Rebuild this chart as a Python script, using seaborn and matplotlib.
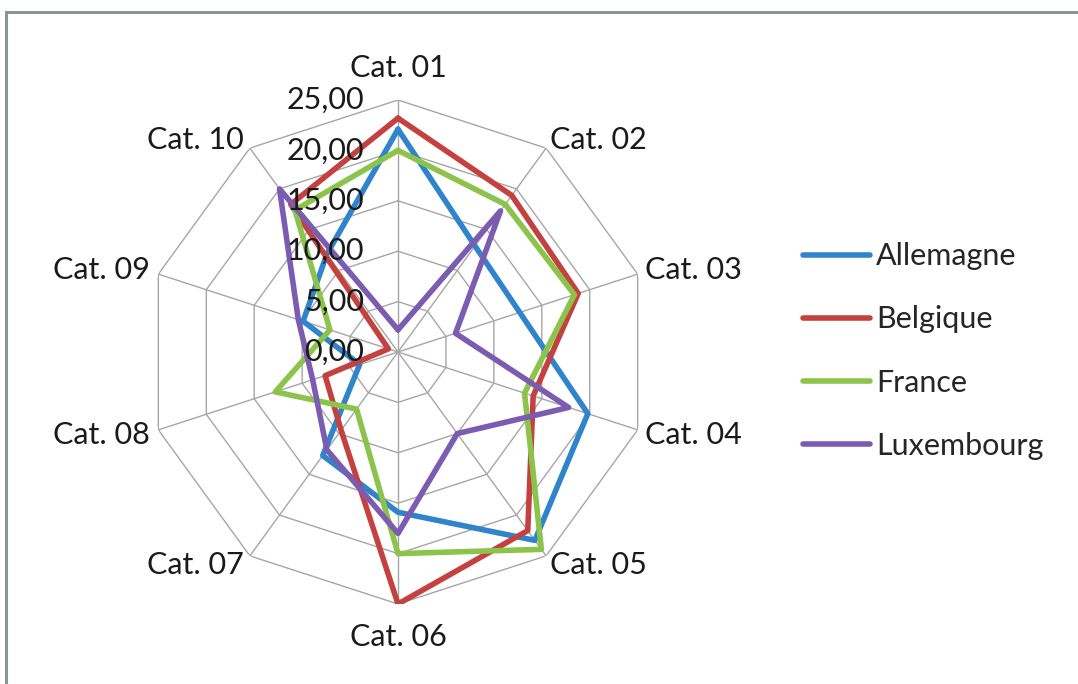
import numpy as np
import pandas as pd
import matplotlib
matplotlib.use("Agg")
import matplotlib.pyplot as plt
from matplotlib.lines import Line2D
from matplotlib.patches import Rectangle
import seaborn as sns

sns.set_style("white")
plt.rcParams['font.family'] = ['Lato', 'DejaVu Sans']

categories = ["Cat. 01", "Cat. 02", "Cat. 03", "Cat. 04", "Cat. 05",
              "Cat. 06", "Cat. 07", "Cat. 08", "Cat. 09", "Cat. 10"]
allemagne = [22.1, 13.0, 12.7, 19.8, 23.1, 15.9, 12.7, 4.0, 9.9, 12.0]
belgique = [23.2, 19.2, 18.8, 14.1, 21.9, 25.0, 9.6, 7.6, 1.0, 18.1]
france = [20.0, 18.1, 18.4, 13.2, 24.2, 20.0, 7.0, 12.8, 7.1, 17.4]
luxembourg = [2.2, 17.3, 6.0, 17.8, 10.0, 18.0, 12.0, 8.9, 10.4, 20.0]
series_names = ["Allemagne", "Belgique", "France", "Luxembourg"]
series_values = [allemagne, belgique, france, luxembourg]
colors = ["#2f84cc", "#c3413e", "#8cc34a", "#7b5cb0"]
ring_values = [0, 5, 10, 15, 20, 25]
ring_labels = ["0,00", "5,00", "10,00", "15,00", "20,00", "25,00"]

W, H = 1078, 684
fig = plt.figure(figsize=(W / 100, H / 100), dpi=100)
cx, cy, R = 398, 352, 252
ax = fig.add_axes([(cx - R) / W, (H - cy - R) / H, 2 * R / W, 2 * R / H],
                  projection="polar")
ax.set_theta_zero_location("N")
ax.set_theta_direction(-1)

n = len(categories)
theta = np.arange(n) * 2 * np.pi / n
theta_closed = np.append(theta, 2 * np.pi)

rows = []
for name, vals in zip(series_names, series_values):
    closed = list(vals) + [vals[0]]
    for t, v in zip(theta_closed, closed):
        rows.append({"theta": t, "value": v, "pays": name})
df = pd.DataFrame(rows)

# grid (decagon rings + spokes)
grid_kw = dict(color="#a6a6a6", lw=1.0, zorder=1)
for r in ring_values[1:]:
    ax.plot(theta_closed, [r] * (n + 1), **grid_kw)
for t in theta:
    ax.plot([t, t], [0, ring_values[-1]], **grid_kw)

sns.lineplot(data=df, x="theta", y="value", hue="pays", sort=False,
             estimator=None, palette=colors, lw=4.0, legend=False, ax=ax,
             zorder=3)

ax.set_ylim(0, 25)
ax.grid(False)
ax.spines["polar"].set_visible(False)
ax.set_xticks([])
ax.set_yticks([])
ax.set_xlabel("")
ax.set_ylabel("")
ax.set_facecolor("none")

fs = 22
# radial value labels
for r, lab in zip(ring_values, ring_labels):
    ax.annotate(lab, xy=(0, r), xytext=(-34, 0), textcoords="offset pixels",
                ha="right", va="center", fontsize=fs, color="#1a1a1a",
                zorder=5)

# category labels
offsets = [(0, 32, "center"), (4, 8, "left"), (7, 4, "left"), (7, -5, "left"),
           (4, -9, "left"), (0, -33, "center"), (-6, -9, "right"),
           (-8, -5, "right"), (-8, 4, "right"), (-6, 8, "right")]
for t, lab, (dx, dy, ha) in zip(theta, categories, offsets):
    ax.annotate(lab, xy=(t, 25), xytext=(dx, dy), textcoords="offset pixels",
                ha=ha, va="center", fontsize=fs, color="#1a1a1a",
                annotation_clip=False)

handles = [Line2D([0], [0], color=c, lw=4.0, solid_capstyle="round")
           for c in colors]
fig.legend(handles, series_names, loc="center left",
           bbox_to_anchor=(803 / W, 1 - 351 / H), frameon=False,
           fontsize=fs, handlelength=2.2, handletextpad=0.2,
           labelspacing=1.15, borderpad=0, borderaxespad=0)

# outer chart frame (partially visible)
fig.add_artist(Rectangle((6 / W, -0.1), 1.2, 1 - 12 / H + 0.1,
                         transform=fig.transFigure, fill=False,
                         ec="#8c9494", lw=2.2))

fig.savefig("out.png", dpi=100)
